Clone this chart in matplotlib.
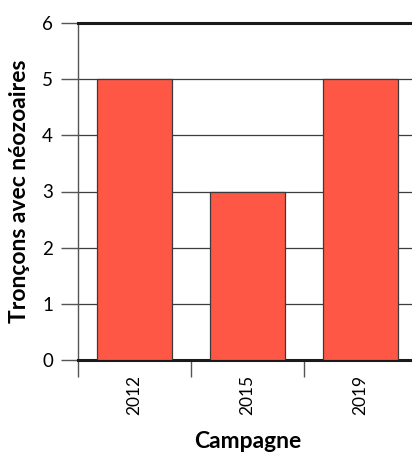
import matplotlib

matplotlib.use("Agg")
import matplotlib.pyplot as plt
import numpy as np

campagnes = ["2012", "2015", "2019"]
troncons = [5, 3, 5]
y_ticks = [0, 1, 2, 3, 4, 5, 6]

plt.rcParams["font.family"] = ["Lato", "DejaVu Sans"]

fig = plt.figure(figsize=(4.12, 4.55), dpi=100)
# axes runs a little past the right edge of the figure, as in the original
ax = fig.add_axes([78 / 412, 1 - 360 / 455, 339 / 412, 337 / 455])

x = np.arange(len(campagnes))
ax.bar(x, troncons, width=0.665, color="#ff5745", edgecolor="#3a3a3a",
       linewidth=0.9, zorder=3)

ax.set_xlim(-0.5, len(campagnes) - 0.5)
ax.set_ylim(0, 6)
ax.set_yticks(y_ticks)
ax.set_yticklabels([str(v) for v in y_ticks], fontsize=13.5)
ax.yaxis.grid(True, color="#3c3c3c", linewidth=0.9, zorder=0)

# labels at the bar centres, tick marks between the categories
ax.set_xticks(x)
ax.set_xticklabels(campagnes, rotation=90, fontsize=12.5)
ax.tick_params(axis="x", which="major", length=0, pad=11)
ax.set_xticks(np.arange(-0.5, len(campagnes)), minor=True)
ax.tick_params(axis="x", which="minor", length=12, width=1, color="#555555")
ax.tick_params(axis="y", length=12, width=1, color="#555555", pad=6)

ax.spines["right"].set_visible(False)
ax.spines["left"].set_color("#555555")
ax.spines["left"].set_linewidth(1)
ax.spines["top"].set_color("#1a1a1a")
ax.spines["top"].set_linewidth(2.2)
ax.spines["bottom"].set_color("#1a1a1a")
ax.spines["bottom"].set_linewidth(2.2)

ax.set_ylabel("Tronçons avec néozoaires", fontsize=16.5, fontweight="bold")
ax.yaxis.set_label_coords(-0.142, 0.5)
ax.set_xlabel("Campagne", fontsize=16.5, fontweight="bold")
ax.xaxis.set_label_coords(0.5, -0.212)

fig.savefig("out.png", dpi=100)
